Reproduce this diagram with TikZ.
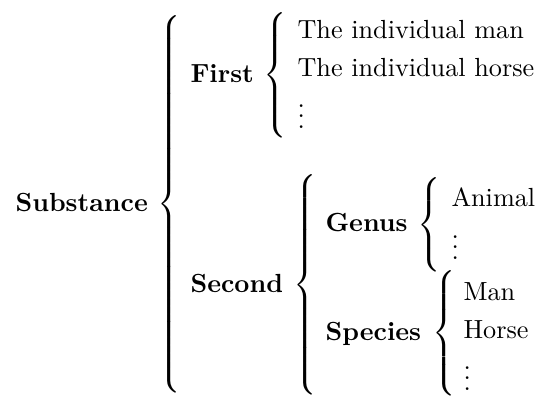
\documentclass[tikz,border=0pt]{standalone}
\newcommand{\mybrace}[1]{$\delimiterfactor=1000 \delimitershortfall=0pt \left\{\vcenter{\hrule height #1 width 0pt}\right.$}
\tikzset{
  lbl/.style={anchor=base west, inner sep=0pt, font=\bfseries},
  itm/.style={anchor=base west, inner sep=0pt},
  brc/.style={anchor=west, inner sep=0pt}
}
\begin{document}
\begin{tikzpicture}[x=0.3817pt,y=-0.3817pt]
\useasboundingbox (0,0) rectangle (540,395);
% labels
\node[lbl] (substance) at (15,211) {Substance};
\node[lbl] (first) at (190,82) {First};
\node[lbl] (second) at (190,292) {Second};
\node[lbl] (genus) at (325,231) {Genus};
\node[lbl] (species) at (325,340) {Species};
% braces
\node[brc] (bsub) at (157,204) {\mybrace{144pt}};
\node[brc] (bfirst) at (263,75) {\mybrace{47pt}};
\node[brc] (bsecond) at (293,285) {\mybrace{81.5pt}};
\node[brc] (bgenus) at (417,225) {\mybrace{35.5pt}};
\node[brc] (bspecies) at (432,333.5) {\mybrace{44.5pt}};
% items
\node[itm] (man1) at (297,38) {The individual man};
\node[itm] (horse1) at (297,76) {The individual horse};
\node[itm] (dots1) at (297,128) {$\vdots$};
\node[itm] (animal) at (451,206) {Animal};
\node[itm] (dots2) at (451,259) {$\vdots$};
\node[itm] (man2) at (463,300) {Man};
\node[itm] (horse2) at (463,338) {Horse};
\node[itm] (dots3) at (463,390) {$\vdots$};
\end{tikzpicture}
\end{document}
